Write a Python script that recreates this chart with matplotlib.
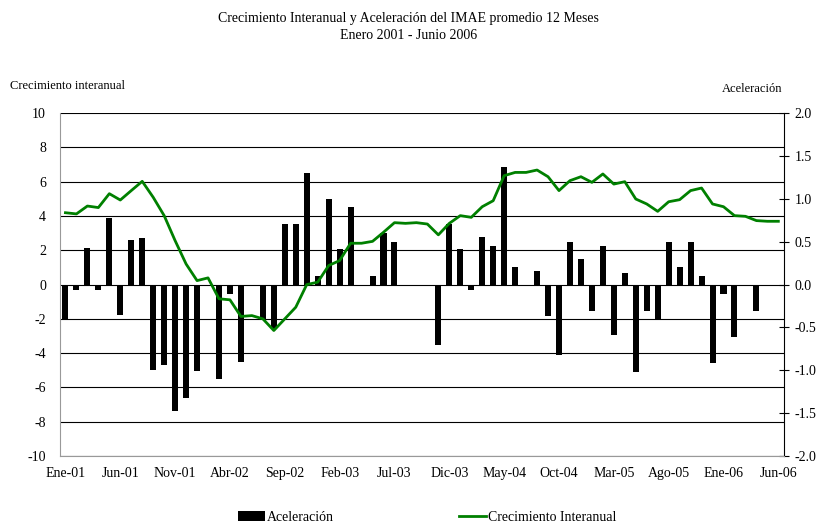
import numpy as np
import matplotlib
matplotlib.use("Agg")
import matplotlib.pyplot as plt

plt.rcParams['font.family'] = ['Liberation Serif', 'DejaVu Serif']
plt.rcParams['font.size'] = 10
plt.rcParams['axes.unicode_minus'] = False

# months Jan 2001 - Jun 2006
mes = ["Ene", "Feb", "Mar", "Abr", "May", "Jun", "Jul", "Ago", "Sep", "Oct", "Nov", "Dic"]
meses = [f"{m}-{a:02d}" for a in range(1, 7) for m in mes][:66]

# Aceleracion (right axis)
aceleracion = [-0.41, -0.06, 0.43, -0.06, 0.78, -0.35, 0.52, 0.54, -1.00, -0.94,
               -1.48, -1.32, -1.01, 0.00, -1.10, -0.11, -0.90, 0.00, -0.41, -0.52,
               0.71, 0.71, 1.30, 0.10, 1.00, 0.41, 0.90, 0.00, 0.10, 0.60,
               0.50, 0.00, 0.00, 0.00, -0.71, 0.71, 0.41, -0.06, 0.56, 0.45,
               1.37, 0.21, -0.02, 0.16, -0.37, -0.82, 0.50, 0.30, -0.31, 0.45,
               -0.59, 0.14, -1.02, -0.31, -0.41, 0.50, 0.20, 0.50, 0.10, -0.92,
               -0.11, -0.61, 0.00, -0.31, 0.00, 0.00]

# Crecimiento interanual (left axis)
crecimiento = [4.19, 4.12, 4.58, 4.49, 5.30, 4.93, 5.48, 6.02, 5.09, 4.02,
               2.56, 1.20, 0.23, 0.39, -0.83, -0.89, -1.86, -1.81, -2.00, -2.68,
               -2.00, -1.32, 0.00, 0.14, 1.11, 1.40, 2.41, 2.41, 2.52, 3.05,
               3.61, 3.57, 3.61, 3.53, 2.90, 3.57, 4.02, 3.92, 4.54, 4.89,
               6.35, 6.54, 6.54, 6.68, 6.29, 5.48, 6.06, 6.29, 5.96, 6.45,
               5.86, 6.00, 4.99, 4.70, 4.27, 4.83, 4.95, 5.48, 5.63, 4.70,
               4.54, 4.02, 3.98, 3.73, 3.69, 3.69]

x = np.arange(len(meses))

fig = plt.figure(figsize=(8.17, 5.26), dpi=100)
ax = fig.add_axes([0.0734, 0.133, 0.886, 0.652])
ax2 = ax.twinx()
ax.set_zorder(ax2.get_zorder() + 1)
ax.patch.set_visible(False)

# bars on right axis
ax2.bar(x, aceleracion, width=0.55, color='black', label='Aceleración')
ax2.set_ylim(-2, 2)
ax2.set_yticks(np.arange(-2, 2.01, 0.5))
ax2.set_yticklabels([f"{v:.1f}" for v in np.arange(-2, 2.01, 0.5)])
ax2.tick_params(axis='y', direction='inout', length=7, width=0.8, colors='black', pad=4)

# line on left axis
ax.plot(x, crecimiento, color='#008000', lw=2, label='Crecimiento Interanual')
ax.set_ylim(-10, 10)
ax.set_yticks(np.arange(-10, 11, 2))
ax.tick_params(axis='y', length=0, pad=10)
ax.yaxis.grid(True, color='black', lw=0.8)
ax.set_axisbelow(True)

ax.set_xlim(-0.5, len(meses) - 0.5)
ax.set_xticks(x[::5])
ax.set_xticklabels(meses[::5])
ax.tick_params(axis='x', length=0, pad=8)

for a in (ax, ax2):
    a.spines['top'].set_visible(False)
ax.spines['left'].set_color('#999999')
ax.spines['bottom'].set_color('#999999')
ax.spines['right'].set_visible(False)
ax2.spines['left'].set_visible(False)
ax2.spines['bottom'].set_visible(False)
ax2.spines['right'].set_color('black')

fig.text(0.5, 0.965, "Crecimiento Interanual y Aceleración del IMAE promedio 12 Meses",
         ha='center', va='center', fontsize=10)
fig.text(0.5, 0.932, "Enero 2001 - Junio 2006", ha='center', va='center', fontsize=10)
fig.text(0.012, 0.837, "Crecimiento interanual", ha='left', va='center', fontsize=9)
fig.text(0.958, 0.830, "Aceleración", ha='right', va='center', fontsize=9)

h1, l1 = ax2.get_legend_handles_labels()
h2, l2 = ax.get_legend_handles_labels()
fig.legend(h1 + h2, l1 + l2, loc='center', bbox_to_anchor=(0.523, 0.017), ncol=2,
           frameon=False, columnspacing=9.0, handlelength=1.95, handletextpad=0.15,
           fontsize=10)

fig.savefig("out.png", dpi=100)
